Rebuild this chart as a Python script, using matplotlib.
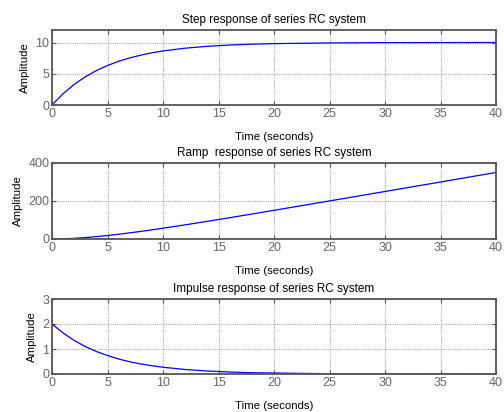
import matplotlib
matplotlib.use("Agg")
import matplotlib.pyplot as plt

plt.rcParams['font.family'] = ['Liberation Sans', 'DejaVu Sans']

t = [0, 1, 2, 3, 4, 5, 6, 7, 8, 9, 10, 12, 14, 16, 18, 20, 25, 30, 35, 40]
step_vals = [0, 1.81, 3.30, 4.51, 5.51, 6.32, 6.99, 7.53, 7.98, 8.35, 8.65,
             9.09, 9.39, 9.59, 9.73, 9.82, 9.93, 9.98, 9.99, 10.0]
ramp_vals = [0, 0.94, 3.5, 7.4, 12.5, 18.4, 25.0, 32.4, 40.0, 48.3, 56.8,
             74.5, 93.0, 112.0, 131.4, 150.9, 200.3, 250.1, 300.0, 350.0]
impulse_vals = [2.0, 1.64, 1.34, 1.10, 0.90, 0.74, 0.60, 0.49, 0.40, 0.33, 0.27,
                0.18, 0.12, 0.08, 0.05, 0.04, 0.01, 0.005, 0.002, 0.001]

titles = ["Step response of series RC system",
          "Ramp  response of series RC system",
          "Impulse response of series RC system"]
ylims = [(0, 12), (0, 400), (0, 3)]
yticks = [[0, 5, 10], [0, 200, 400], [0, 1, 2, 3]]
xticks = [0, 5, 10, 15, 20, 25, 30, 35, 40]
series = [step_vals, ramp_vals, impulse_vals]

fig = plt.figure(figsize=(5.04, 4.12), dpi=100)
W, H = 504, 412
boxes = [(52, 30, 496, 105), (52, 163, 496, 239), (52, 299, 496, 374)]
frame_col = '#555555'
tick_col = '#666666'
for (x0, y0, x1, y1), title, yl, yt, vals in zip(boxes, titles, ylims, yticks, series):
    ax = fig.add_axes([x0 / W, 1 - y1 / H, (x1 - x0) / W, (y1 - y0) / H])
    ax.plot(t, vals, color='#0000ff', lw=0.9)
    ax.set_xlim(0, 40)
    ax.set_ylim(*yl)
    ax.set_xticks(xticks)
    ax.set_yticks(yt)
    ax.grid(True, color='#aaaaaa', linestyle=(0, (1, 1)), linewidth=0.8)
    for s in ax.spines.values():
        s.set_color(frame_col)
        s.set_linewidth(1.3)
    ax.tick_params(direction='in', top=True, right=True, length=3,
                   color=frame_col, labelcolor=tick_col, labelsize=9, pad=2)
    ax.set_title(title, fontsize=8.5, pad=5)
    ax.set_xlabel("Time (seconds)", fontsize=8.2, labelpad=9)
    ax.set_ylabel("Amplitude", fontsize=8.2, labelpad=4)

fig.savefig("out.png", dpi=100)
